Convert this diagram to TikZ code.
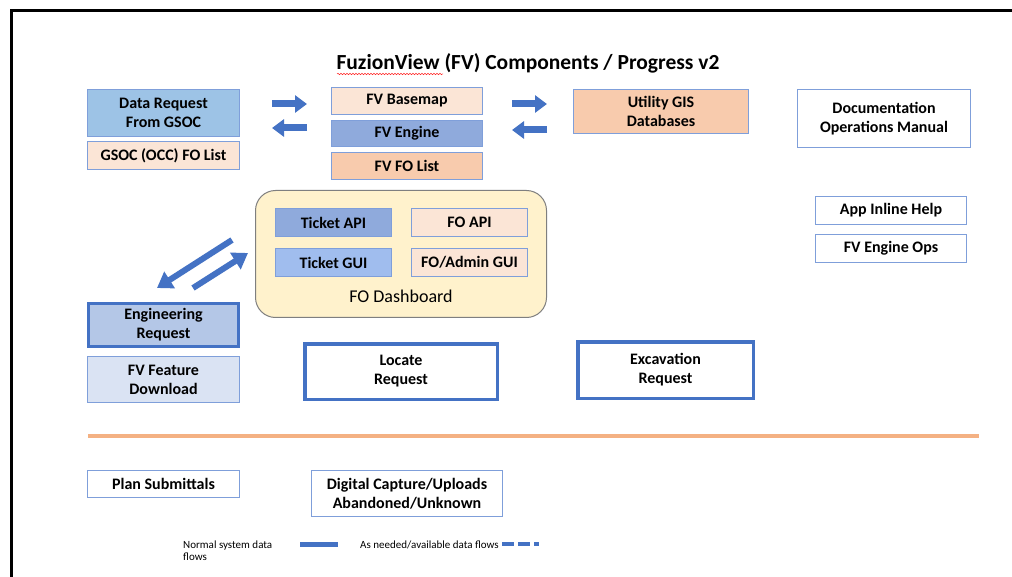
\documentclass[tikz,border=0pt]{standalone}
\usepackage{fontspec}
\setmainfont{Carlito}
\usetikzlibrary{arrows.meta,decorations.pathmorphing}
\definecolor{bordblue}{HTML}{7F9FDA}
\definecolor{thickblue}{HTML}{4472C4}
\definecolor{arrblue}{HTML}{4472C4}
\definecolor{skyblue}{HTML}{9DC3E6}
\definecolor{peach}{HTML}{FBE5D6}
\definecolor{orangef}{HTML}{F8CBAD}
\definecolor{midblue}{HTML}{8FAADC}
\definecolor{guiblue}{HTML}{A0BDEE}
\definecolor{engblue}{HTML}{B4C7E7}
\definecolor{paleblue}{HTML}{DAE3F3}
\definecolor{dashyellow}{HTML}{FFF2CC}
\definecolor{dashborder}{HTML}{7F7F7F}
\definecolor{sepline}{HTML}{F4B183}
\tikzset{
  lbl/.style={font=\bfseries\fontsize{16}{19}\selectfont, align=center, inner sep=0pt, text=black},
  tbox/.style={lbl, draw=bordblue, line width=1.2pt},
  kbox/.style={lbl, draw=thickblue, line width=3.5pt},
  flow/.style={draw=arrblue, line width=7pt, -{Triangle[length=12pt,width=17pt]}},
  dflow/.style={draw=arrblue, line width=6pt, -{Triangle[length=15pt,width=19pt]}},
  legtxt/.style={font=\fontsize{11}{12}\selectfont, inner sep=0pt, align=left}
}
\begin{document}
\begin{tikzpicture}[x=1pt,y=-1pt]
\useasboundingbox (0,0) rectangle (1012,577);
\fill[white] (0,0) rectangle (1012,577);
% frame
\draw[line width=3pt, black] (11,577) -- (11,11) -- (1012,11);
% title
\node[font=\bfseries\fontsize{21.5}{26}\selectfont, anchor=base, inner sep=0pt] (title) at (528,70) {FuzionView (FV) Components / Progress v2};
\draw[red!85, line width=0.5pt, decorate, decoration={snake, amplitude=0.7pt, segment length=3pt}] (337,74) -- (443,74);
% left column top
\node[tbox, fill=skyblue, minimum width=152pt, minimum height=47pt] (dr) at (163.5,113) {Data Request\\From GSOC};
\node[tbox, fill=peach, minimum width=152pt, minimum height=28pt] (gsoc) at (163.5,155.5) {GSOC (OCC) FO List};
% centre stack
\node[tbox, fill=peach, minimum width=151pt, minimum height=27pt] (base) at (407,101) {FV Basemap};
\node[tbox, fill=midblue, minimum width=151pt, minimum height=26pt] (engine) at (407,133.5) {FV Engine};
\node[tbox, fill=orangef, minimum width=151pt, minimum height=27pt] (fol) at (407,166) {FV FO List};
% utility GIS
\node[tbox, fill=orangef, minimum width=175pt, minimum height=44pt] (ugis) at (661,111.5) {Utility GIS\\Databases};
% right column
\node[tbox, fill=white, minimum width=173pt, minimum height=58pt] (doc) at (884,118.5) {Documentation\\Operations Manual};
\node[tbox, fill=white, minimum width=151pt, minimum height=28pt] (help) at (891,210.5) {App Inline Help};
\node[tbox, fill=white, minimum width=151pt, minimum height=28pt] (ops) at (891,248.5) {FV Engine Ops};
% arrows top
\coordinate (a1s) at (272,104); \coordinate (a1e) at (307,104);
\coordinate (a2s) at (307,128); \coordinate (a2e) at (272,128);
\coordinate (a3s) at (512,104); \coordinate (a3e) at (547,104);
\coordinate (a4s) at (547,130); \coordinate (a4e) at (512,130);
\draw[flow] (a1s) -- (a1e);
\draw[flow] (a2s) -- (a2e);
\draw[flow] (a3s) -- (a3e);
\draw[flow] (a4s) -- (a4e);
% FO dashboard
\node[draw=dashborder, line width=1pt, fill=dashyellow, rounded corners=20pt, minimum width=291pt, minimum height=127pt, inner sep=0pt] (dash) at (401,254) {};
\node[lbl, draw=bordblue, line width=1.2pt, fill=midblue, minimum width=116pt, minimum height=28pt] (tapi) at (333.5,222.5) {Ticket API};
\node[lbl, draw=bordblue, line width=1.2pt, fill=peach, minimum width=116pt, minimum height=28pt] (foapi) at (469.5,222.5) {FO API};
\node[lbl, draw=bordblue, line width=1.2pt, fill=guiblue, minimum width=116pt, minimum height=28pt] (tgui) at (333.5,262.5) {Ticket GUI};
\node[lbl, draw=bordblue, line width=1.2pt, fill=peach, minimum width=116pt, minimum height=28pt] (fogui) at (469.5,262.5) {FO/Admin GUI};
\node[font=\fontsize{18}{22}\selectfont, inner sep=0pt] (dashlbl) at (401,296) {FO Dashboard};
% diagonal arrows
\coordinate (d1s) at (232,240); \coordinate (d1e) at (157,288);
\coordinate (d2s) at (193,288); \coordinate (d2e) at (248,253);
\draw[dflow] (d1s) -- (d1e);
\draw[dflow] (d2s) -- (d2e);
% lower left
\node[kbox, fill=engblue, minimum width=150pt, minimum height=43pt] (engreq) at (163.5,325) {Engineering\\Request};
\node[tbox, fill=paleblue, minimum width=152pt, minimum height=46pt] (ffd) at (163.5,379.5) {FV Feature\\Download};
\node[kbox, fill=white, minimum width=192.5pt, minimum height=55.5pt] (loc) at (401,371.5) {Locate\\Request};
\node[kbox, fill=white, minimum width=175.5pt, minimum height=56.5pt] (exc) at (665.5,370) {Excavation\\Request};
% separator
\coordinate (sl) at (88,436); \coordinate (sr) at (979,436);
\draw[sepline, line width=4.5pt] (sl) -- (sr);
% bottom boxes
\node[tbox, fill=white, minimum width=152pt, minimum height=27pt] (plan) at (163.5,484) {Plan Submittals};
\node[tbox, fill=white, minimum width=191pt, minimum height=46pt] (dig) at (407,493.5) {Digital Capture/Uploads\\Abandoned/Unknown};
% legend
\node[legtxt, anchor=north west] (leg1) at (183,540.5) {Normal system data\\flows};
\coordinate (l1s) at (300,544.5); \coordinate (l1e) at (338,544.5);
\draw[arrblue, line width=5.5pt] (l1s) -- (l1e);
\node[legtxt, anchor=base west] (leg2) at (360,548) {As needed/available data flows};
\coordinate (l2s) at (502,544); \coordinate (l2e) at (539,544);
\draw[arrblue, line width=3.7pt, dash pattern=on 11.5pt off 4.5pt] (l2s) -- (l2e);
\end{tikzpicture}
\end{document}
